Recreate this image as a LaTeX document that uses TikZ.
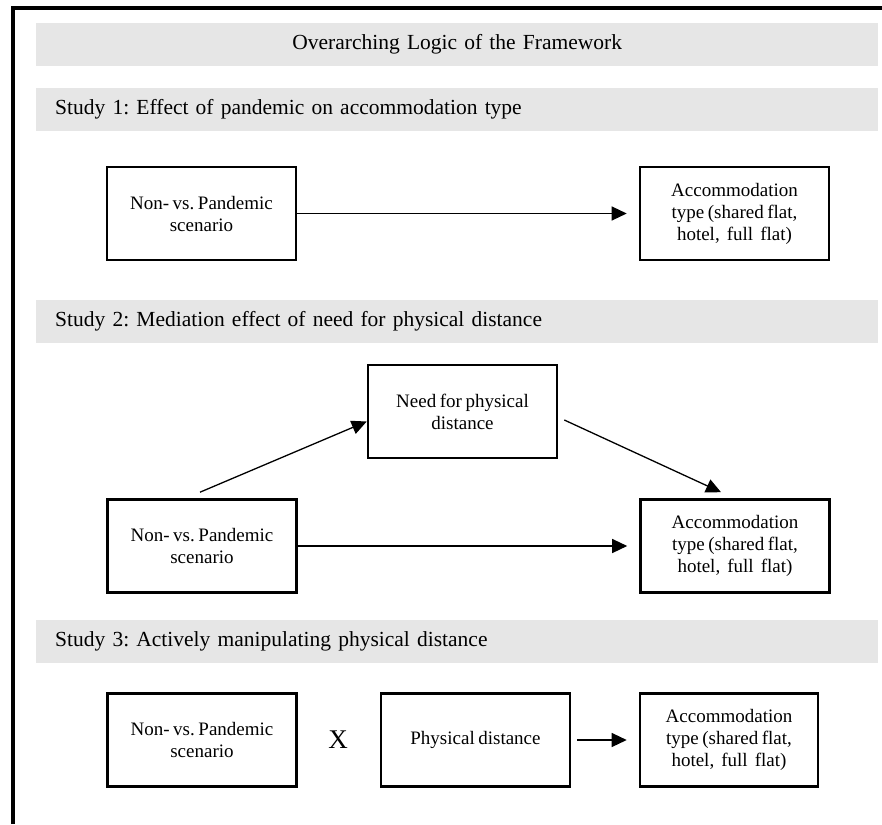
\documentclass[tikz,border=0pt]{standalone}
\usepackage{fontspec}
\setmainfont[WordSpace=0.75]{Liberation Serif}
\usepackage{tikz}
\usepackage{xcolor}
\usetikzlibrary{arrows.meta, positioning}
\definecolor{barfill}{RGB}{230,230,230}
\frenchspacing

\begin{document}
\begin{tikzpicture}[x=1pt, y=-1pt, node distance=533pt, on grid,
    box/.style={rectangle, draw, line width=2.6pt, minimum width=189pt, minimum height=93pt, inner sep=4pt, align=center, font=\fontsize{19}{22}\selectfont},
    bar/.style={rectangle, fill=barfill, anchor=north west, minimum height=43pt, text width=804pt, inner xsep=19pt, inner ysep=0pt, align=left, font=\fontsize{21.5}{24}\selectfont},
    arr/.style={-{Triangle[length=15pt, width=14pt]}, line width=1.3pt}]

    \useasboundingbox (0,0) rectangle (882,824);
    \draw[line width=3.4pt] (13,824) -- (13,8) -- (882,8);

    % headings
    \node[bar, align=center] (logic) at (36,23) {Overarching Logic of the Framework};
    \node[bar] (st1) at (36,88) {Study 1: Effect of pandemic on accommodation type};
    \node[bar] (st2) at (36,300) {Study 2: Mediation effect of need for physical distance};
    \node[bar] (st3) at (36,620) {Study 3: Actively manipulating physical distance};

    % study 1
    \node[box] (s1x) at (201.5,213.5) {Non- vs. Pandemic\\scenario};
    \node[box, right=of s1x] (s1y) {Accommodation\\type (shared flat,\\hotel,~ full~ flat)};

    % study 2
    \node[box] (s2x) at (202,546) {Non- vs. Pandemic\\scenario};
    \node[box, right=of s2x] (s2y) {Accommodation\\type (shared flat,\\hotel,~ full~ flat)};
    \node[box] (s2m) at (462.5,411.5) {Need for physical\\distance};

    % study 3
    \node[box] (s3x) at (202,740) {Non- vs. Pandemic\\scenario};
    \node[box, right=273.5pt of s3x] (s3m) {Physical distance};
    \node[box, minimum width=178pt, right=253.5pt of s3m] (s3y) {Accommodation\\type (shared flat,\\hotel,~ full~ flat)};
    \node[font=\fontsize{27}{27}\selectfont, right=136pt of s3x] (times) {X};

    \draw[arr, shorten >=12pt] (s1x) -- (s1y);
    \draw[arr, shorten >=12pt] (s2x) -- (s2y);
    \draw[arr] ([xshift=-2pt, yshift=6pt]s2x.north) -- ([yshift=-10pt]s2m.west);
    \draw[arr] ([xshift=6pt, yshift=-8.5pt]s2m.east) -- ([xshift=-14pt, yshift=6pt]s2y.north);
    \draw[arr, shorten <=6pt, shorten >=12pt] (s3m) -- (s3y);

\end{tikzpicture}
\end{document}
